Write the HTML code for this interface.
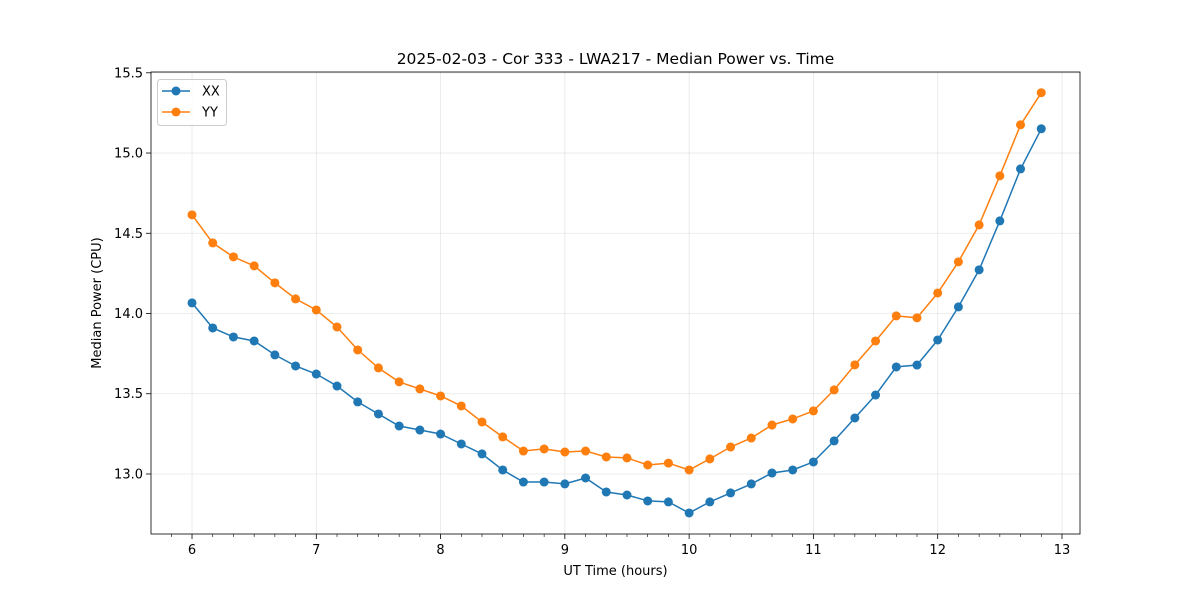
<!DOCTYPE html>
<html><head><meta charset="utf-8"><style>
body{margin:0;background:#fff;font-family:"Liberation Sans","DejaVu Sans",sans-serif}
svg text{font-family:"DejaVu Sans","Liberation Sans",sans-serif}
</style></head><body>
<svg id="chart" width="1200" height="600" xmlns="http://www.w3.org/2000/svg"></svg>
<script>
const xxValues=[14.066,13.91,13.854,13.829,13.742,13.673,13.623,13.548,13.449,13.374,13.299,13.274,13.249,13.187,13.125,13.025,12.95,12.95,12.938,12.975,12.888,12.869,12.832,12.826,12.757,12.826,12.882,12.938,13.006,13.025,13.075,13.206,13.349,13.492,13.667,13.679,13.835,14.041,14.272,14.577,14.901,15.151];
const yyValues=[14.615,14.44,14.353,14.297,14.191,14.091,14.022,13.916,13.773,13.661,13.574,13.53,13.486,13.424,13.324,13.231,13.143,13.156,13.137,13.143,13.106,13.1,13.056,13.068,13.025,13.094,13.168,13.224,13.305,13.343,13.393,13.524,13.68,13.829,13.985,13.973,14.128,14.322,14.552,14.858,15.176,15.376];
const timeStart=6, timeStep=1/6;
const xTicks=[6,7,8,9,10,11,12,13];
const yTicks=[13.0,13.5,14.0,14.5,15.0,15.5];

const svg=document.getElementById('chart');
const NS='http://www.w3.org/2000/svg';
const L=151,R=1080,T=72,B=534;
const xMin=5.67,xMax=13.145,yMin=12.626,yMax=15.505;
const sx=v=>L+(v-xMin)/(xMax-xMin)*(R-L);
const sy=v=>B-(v-yMin)/(yMax-yMin)*(B-T);
function el(tag,attrs,parent){const e=document.createElementNS(NS,tag);for(const k in attrs)e.setAttribute(k,attrs[k]);(parent||svg).appendChild(e);return e;}

// grid
xTicks.forEach(t=>{
  const g=el('line',{x1:sx(t),x2:sx(t),y1:T,y2:B,stroke:'#b0b0b0','stroke-opacity':0.3,'stroke-width':0.8});
  
  
  const tk=el('line',{x1:sx(t),x2:sx(t),y1:B,y2:B+5,stroke:'#000','stroke-width':0.8});
  
  
  const lb=el('text',{x:sx(t),y:B+20,'text-anchor':'middle','font-size':13});
  lb.textContent=String(t);
  
  
});
for(let m=Math.ceil(xMin*6);m<=Math.floor(xMax*6);m++){
  if(m%6===0)continue;
  const v=m/6;
  const mt=el('line',{x1:sx(v),x2:sx(v),y1:B,y2:B+3,stroke:'#000','stroke-width':0.6});
  
  
}
yTicks.forEach(t=>{
  const g=el('line',{x1:L,x2:R,y1:sy(t),y2:sy(t),stroke:'#b0b0b0','stroke-opacity':0.3,'stroke-width':0.8});
  
  
  const tk=el('line',{x1:L-5,x2:L,y1:sy(t),y2:sy(t),stroke:'#000','stroke-width':0.8});
  
  
  const lb=el('text',{x:L-8,y:sy(t)+4.5,'text-anchor':'end','font-size':13});
  lb.textContent=t.toFixed(1);
  
  
});

function series(vals,color,name){
  const g=el('g',{});
  
  
  const pts=vals.map((v,i)=>sx(timeStart+i*timeStep).toFixed(1)+','+sy(v).toFixed(1)).join(' ');
  const pl=el('polyline',{points:pts,fill:'none',stroke:color,'stroke-width':1.5},g);
  
  
  vals.forEach((v,i)=>{
    const c=el('circle',{cx:sx(timeStart+i*timeStep),cy:sy(v),r:4.5,fill:color},g);
    
    
  });
}
series(xxValues,'#1f77b4','xx');
series(yyValues,'#ff7f0e','yy');

const frame=el('rect',{x:L,y:T,width:R-L,height:B-T,fill:'none',stroke:'#000','stroke-width':0.8});



const title=el('text',{x:(L+R)/2,y:64,'text-anchor':'middle','font-size':15.5});
title.textContent='2025-02-03 - Cor 333 - LWA217 - Median Power vs. Time';


const xt=el('text',{x:(L+R)/2,y:575,'text-anchor':'middle','font-size':13});
xt.textContent='UT Time (hours)';


const yt=el('text',{x:0,y:0,'text-anchor':'middle','font-size':13,transform:'translate(101,303) rotate(-90)'});
yt.textContent='Median Power (CPU)';



// legend
const lg=el('g',{});


el('rect',{x:157.5,y:79.5,width:69,height:46,rx:3,fill:'#fff','fill-opacity':0.8,stroke:'#ccc'},lg);
[['XX','#1f77b4',91],['YY','#ff7f0e',112]].forEach(([n,c,y])=>{
  const e=el('g',{},lg);
  
  
  el('line',{x1:162,x2:190,y1:y,y2:y,stroke:c,'stroke-width':1.5},e);
  el('circle',{cx:176,cy:y,r:4.5,fill:c},e);
  const t=el('text',{x:202,y:y+4.5,'font-size':13},e);
  t.textContent=n;
});
</script>
</body></html>
